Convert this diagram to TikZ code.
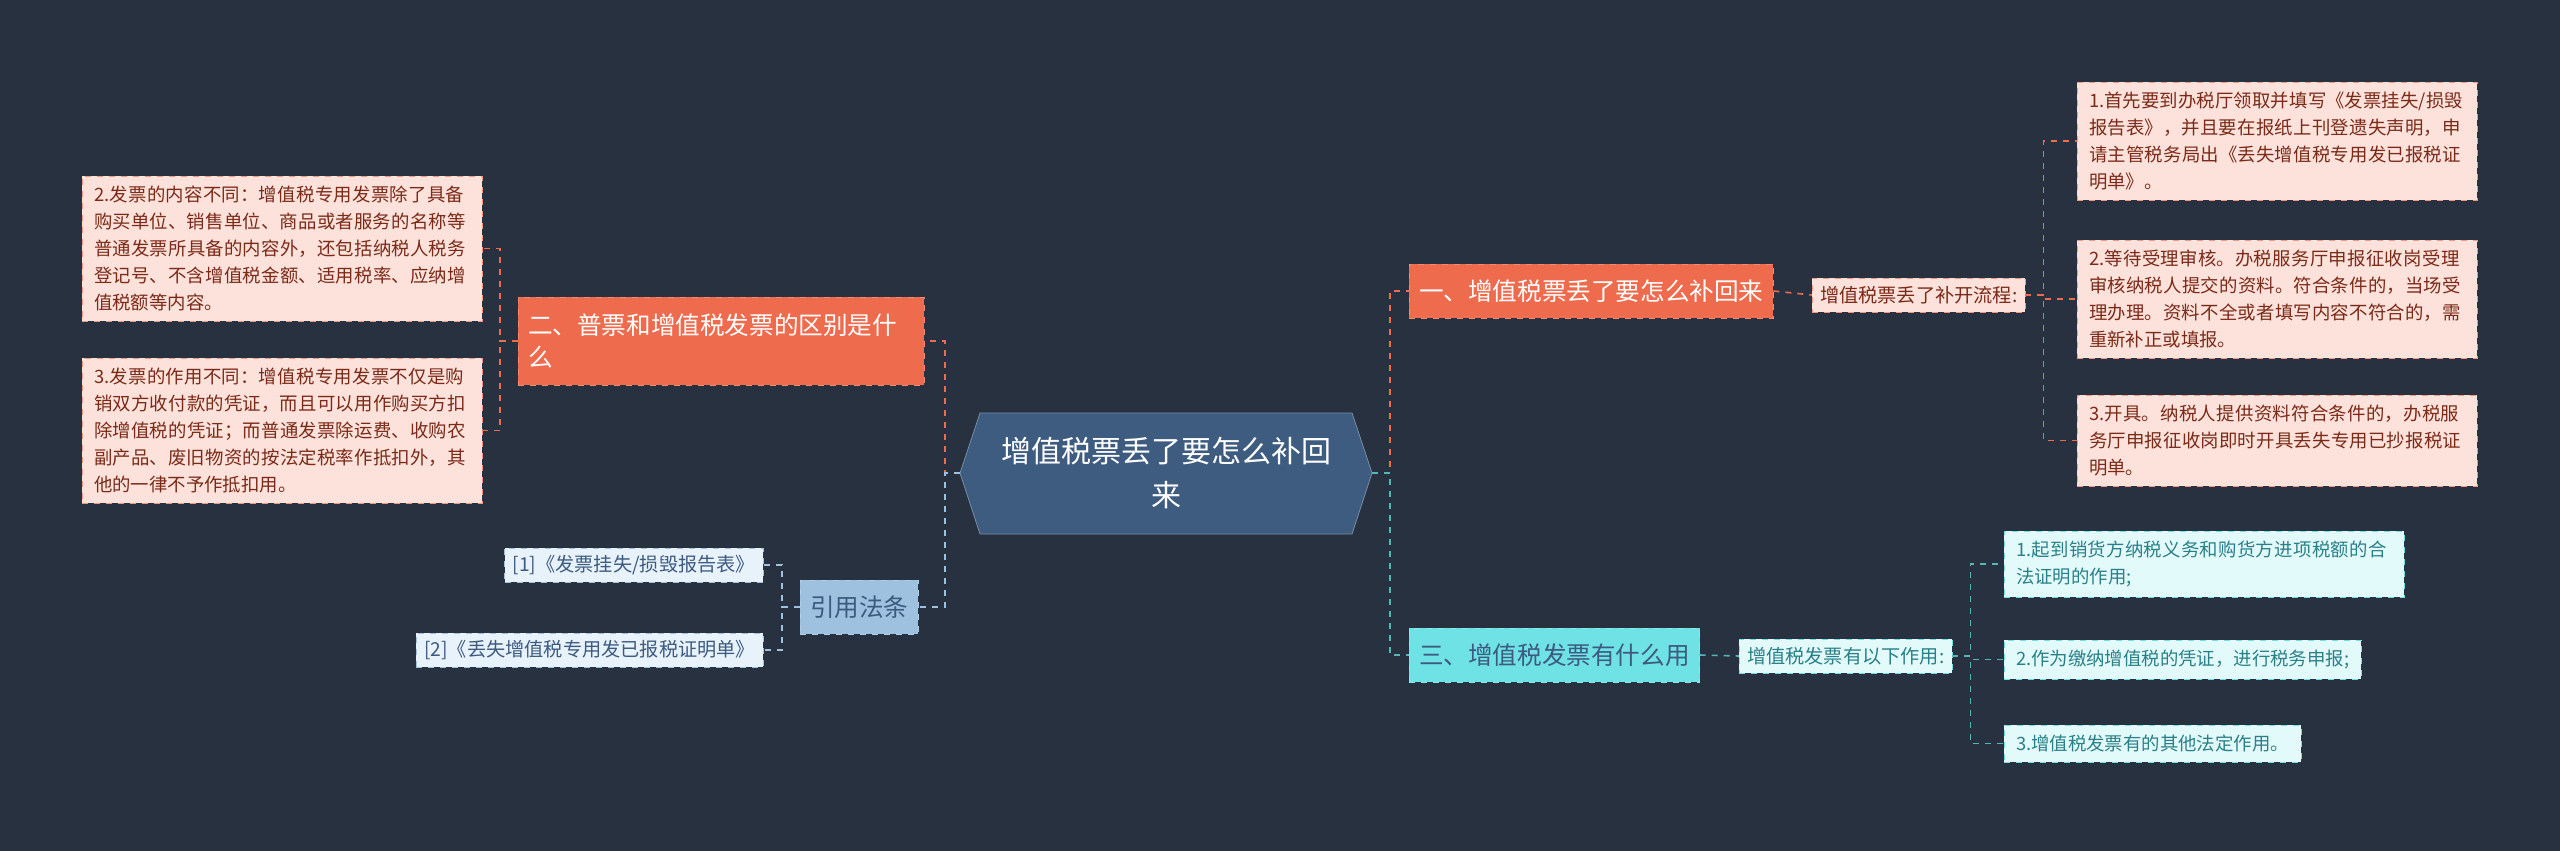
\documentclass[tikz,border=0pt]{standalone}
\usepackage{fontspec}
\setmainfont{Noto Sans CJK SC}
\XeTeXlinebreaklocale "zh"
\XeTeXlinebreakskip=0pt plus 1pt
\usetikzlibrary{positioning}
\definecolor{bgc}{HTML}{283140}
\definecolor{rootc}{HTML}{3E5B80}
\definecolor{orc}{HTML}{EF6B4D}
\definecolor{cyc}{HTML}{6EE2E4}
\definecolor{blc}{HTML}{9DC1DE}
\definecolor{pkc}{HTML}{FDE2DC}
\definecolor{lcc}{HTML}{E2FAFA}
\definecolor{lbc}{HTML}{E8F2FA}
\definecolor{redt}{HTML}{7B2A18}
\definecolor{cyt}{HTML}{2A8088}
\definecolor{blt}{HTML}{3D5A80}
\tikzset{
  every node/.style={inner sep=0pt, outer sep=0pt},
  mainbox/.style={fill=#1, draw=#1!80!white, dashed, minimum height=27pt, inner xsep=5pt, anchor=west, font=\fontsize{12.3}{16}\selectfont},
  leafbox/.style={fill=pkc, draw=orc!70!white, dashed, text=redt, align=left, inner xsep=6pt, inner ysep=5pt, anchor=north west, font=\fontsize{9.2}{13.5}\selectfont},
  midbox/.style={fill=#1, dashed, inner xsep=4pt, minimum height=17pt, anchor=west, font=\fontsize{9.6}{11}\selectfont},
  orline/.style={draw=orc, dashed, line width=0.8pt},
  cyline/.style={draw=cyc!80!black, dashed, line width=0.8pt},
  blline/.style={draw=blc, dashed, line width=0.8pt},
}
\begin{document}
\begin{tikzpicture}[x=0.5pt,y=-0.5pt]
  \fill[bgc] (0,0) rectangle (2560,851);
  \useasboundingbox (0,0) rectangle (2560,851);
  % root
  \filldraw[fill=rootc, draw=rootc!70!white] (980,413) -- (1352,413) -- (1372,473) -- (1352,534)
    -- (980,534) -- (960,473) -- cycle;
  \node[text=white, align=center, font=\fontsize{15}{22}\selectfont] (root) at (1166,473)
    {增值税票丢了要怎么补回\\来};
  \coordinate (rootR) at (1372,473);
  \coordinate (rootL) at (960,473);
  % right branches
  \node[mainbox=orc, text=white] (b1) at (1409,291) {一、增值税票丢了要怎么补回来};
  \node[mainbox=cyc, text=blt] (b3) at (1409,655) {三、增值税发票有什么用};
  \node[midbox=pkc, draw=orc!70!white, text=redt] (m1) at (1812,295) {增值税票丢了补开流程:};
  \node[midbox=lcc, draw=cyc, text=cyt] (m3) at (1739,656) {增值税发票有以下作用:};
  \node[leafbox, text width=188pt] (r1) at (2077,82)
    {1.首先要到办税厅领取并填写《发票挂失/损毁报告表》，并且要在报纸上刊登遗失声明，申请主管税务局出《丢失增值税专用发已报税证明单》。};
  \node[leafbox, text width=188pt] (r2) at (2077,240)
    {2.等待受理审核。办税服务厅申报征收岗受理审核纳税人提交的资料。符合条件的，当场受理办理。资料不全或者填写内容不符合的，需重新补正或填报。};
  \node[leafbox, text width=188pt] (r3) at (2077,395)
    {3.开具。纳税人提供资料符合条件的，办税服务厅申报征收岗即时开具丢失专用已抄报税证明单。};
  \node[leafbox, fill=lcc, draw=cyc, text=cyt, text width=188pt] (c1) at (2004,531)
    {1.起到销货方纳税义务和购货方进项税额的合法证明的作用;};
  \node[leafbox, fill=lcc, draw=cyc, text=cyt] (c2) at (2004,640)
    {2.作为缴纳增值税的凭证，进行税务申报;};
  \node[leafbox, fill=lcc, draw=cyc, text=cyt] (c3) at (2004,725)
    {3.增值税发票有的其他法定作用。};
  % left branches
  \node[mainbox=orc, text=white, align=left, text width=193pt, minimum height=44pt] (b2) at (518,341)
    {二、普票和增值税发票的区别是什\\么};
  \node[mainbox=blc, text=blt, minimum height=27pt] (b4) at (800,607) {引用法条};
  \node[leafbox, text width=188pt] (l1) at (82,176)
    {2.发票的内容不同：增值税专用发票除了具备购买单位、销售单位、商品或者服务的名称等普通发票所具备的内容外，还包括纳税人税务登记号、不含增值税金额、适用税率、应纳增值税额等内容。};
  \node[leafbox, text width=188pt] (l2) at (82,358)
    {3.发票的作用不同：增值税专用发票不仅是购销双方收付款的凭证，而且可以用作购买方扣除增值税的凭证；而普通发票除运费、收购农副产品、废旧物资的按法定税率作抵扣外，其他的一律不予作抵扣用。};
  \node[midbox=lbc, draw=blc, text=blt, anchor=east] (q1) at (763,565) {[1]《发票挂失/损毁报告表》};
  \node[midbox=lbc, draw=blc, text=blt, anchor=east] (q2) at (763,650) {[2]《丢失增值税专用发已报税证明单》};
  % connectors
  \draw[orline] (rootR) -- ++(18,0) |- (b1.west);
  \draw[cyline] (rootR) -- ++(18,0) |- (b3.west);
  \draw[orline] (rootL) -- ++(-15,0) |- (b2.east);
  \draw[blline] (rootL) -- ++(-15,0) |- (b4.east);
  \draw[orline] (b1.east) -- (m1.west);
  \draw[cyline] (b3.east) -- (m3.west);
  \foreach \n in {r1,r2,r3} \draw[orline] (m1.east) -- ++(18,0) |- (\n.west);
  \foreach \n in {c1,c2,c3} \draw[cyline] (m3.east) -- ++(18,0) |- (\n.west);
  \foreach \n in {l1,l2} \draw[orline] (b2.west) -- ++(-18,0) |- (\n.east);
  \foreach \n in {q1,q2} \draw[blline] (b4.west) -- ++(-18,0) |- (\n.east);
\end{tikzpicture}
\end{document}
